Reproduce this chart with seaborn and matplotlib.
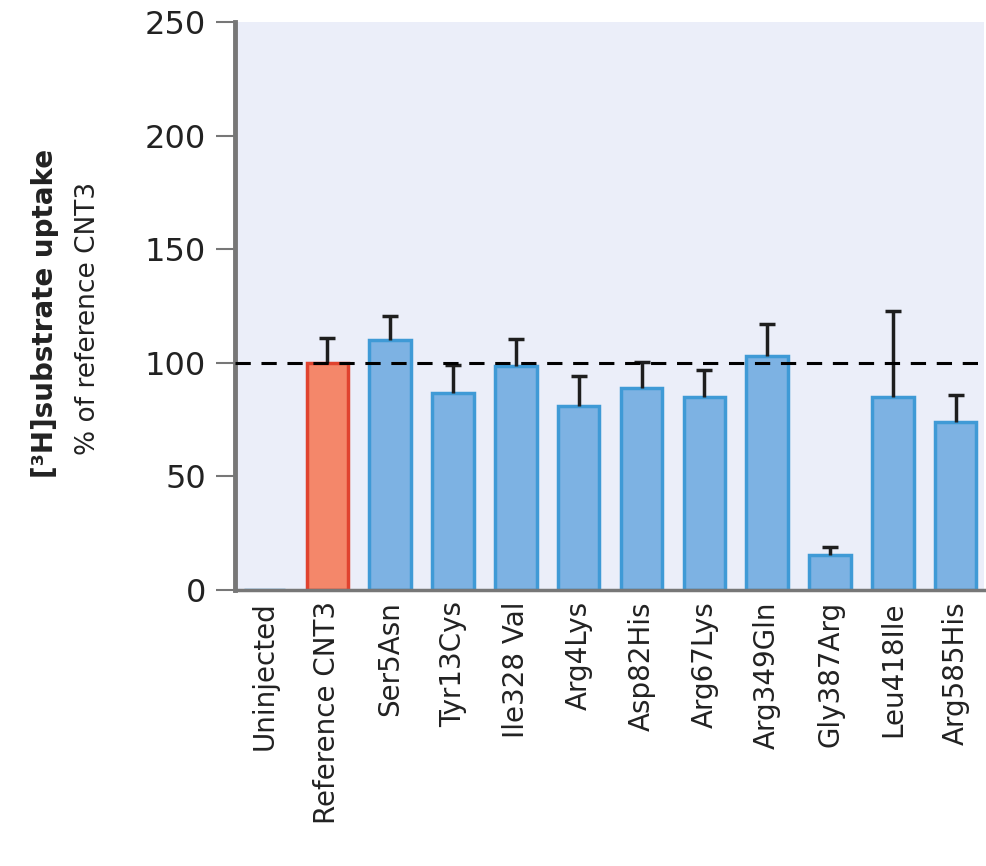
# Import Libraries
import numpy as np
import pandas as pd
import seaborn as sns
import matplotlib.pyplot as plt

# Data
variants = ['Uninjected', 'Reference CNT3', 'Ser5Asn', 'Tyr13Cys', 'Ile328 Val',
            'Arg4Lys', 'Asp82His', 'Arg67Lys', 'Arg349Gln', 'Gly387Arg',
            'Leu418Ile', 'Arg585His']
uptake = [0, 100, 110, 86.5, 98.5, 81, 89, 85, 103, 15.5, 85, 74]
error_top = [0, 111, 120.5, 99, 110.5, 94, 100.5, 97, 117, 19, 123, 86]
y_ticks = [0, 50, 100, 150, 200, 250]

df = pd.DataFrame({'variant': variants, 'uptake': uptake})
df['err'] = np.array(error_top) - np.array(uptake)

blue_fill = '#7db2e3'
blue_edge = '#3f9ad6'
red_fill = '#f4876a'
red_edge = '#e0432f'
fills = [blue_fill if v != 'Reference CNT3' else red_fill for v in variants]
edges = [blue_edge if v != 'Reference CNT3' else red_edge for v in variants]

sns.set_style('white')
plt.rcParams['font.family'] = ['DejaVu Sans']

fig = plt.figure(figsize = (9.86, 8.66), dpi = 100)
ax = fig.add_axes([0.2383, 0.3187, 0.7597, 0.6559])
ax.set_facecolor('#ebeef9')

sns.barplot(
    data = df,
    x = 'variant',
    y = 'uptake',
    hue = 'variant',
    palette = fills,
    saturation = 1,
    legend = False,
    width = 0.66,
    ax = ax
)
for patch, ec in zip(ax.patches, edges):
    patch.set_edgecolor(ec)
    patch.set_linewidth(2.5)

# upper error bars only
xpos = np.arange(len(variants))
mask = df['err'].values > 0
_, caps, _ = ax.errorbar(
    xpos[mask], df['uptake'].values[mask],
    yerr = [np.zeros(mask.sum()), df['err'].values[mask]],
    fmt = 'none', ecolor = '#1e1e1e', elinewidth = 2.5,
    capsize = 6, capthick = 2.5, zorder = 3
)
caps[0].set_visible(False)

# reference line at 100 %
ax.axhline(100, color = 'black', linestyle = (0, (5, 3.5)), linewidth = 2.2, zorder = 4)

ax.set_xlim(-0.47, len(variants) - 0.55)
ax.set_ylim(0, 250)
ax.set_yticks(y_ticks)
ax.set_yticklabels([str(t) for t in y_ticks], fontsize = 23, color = '#222222')
ax.set_xticks(xpos)
ax.set_xticklabels(variants, rotation = 90, fontsize = 20, color = '#222222')
ax.set_xlabel('')
ax.set_ylabel('')

ax.tick_params(axis = 'y', direction = 'out', length = 14, width = 1.5,
               color = '#777777', left = True, pad = 7)
ax.tick_params(axis = 'x', length = 0, pad = 8)

sns.despine(ax = ax, top = True, right = True)
ax.spines['left'].set_color('#777777')
ax.spines['left'].set_linewidth(3.5)
ax.spines['bottom'].set_color('#777777')
ax.spines['bottom'].set_linewidth(2.5)

fig.text(45 / 986, 1 - 313 / 866, '[³H]substrate uptake', rotation = 90,
         fontsize = 20, fontweight = 'bold', ha = 'center', va = 'center', color = '#222222')
fig.text(88 / 986, 1 - 318 / 866, '% of reference CNT3', rotation = 90,
         fontsize = 19, ha = 'center', va = 'center', color = '#222222')

fig.savefig('out.png', dpi = 100)
